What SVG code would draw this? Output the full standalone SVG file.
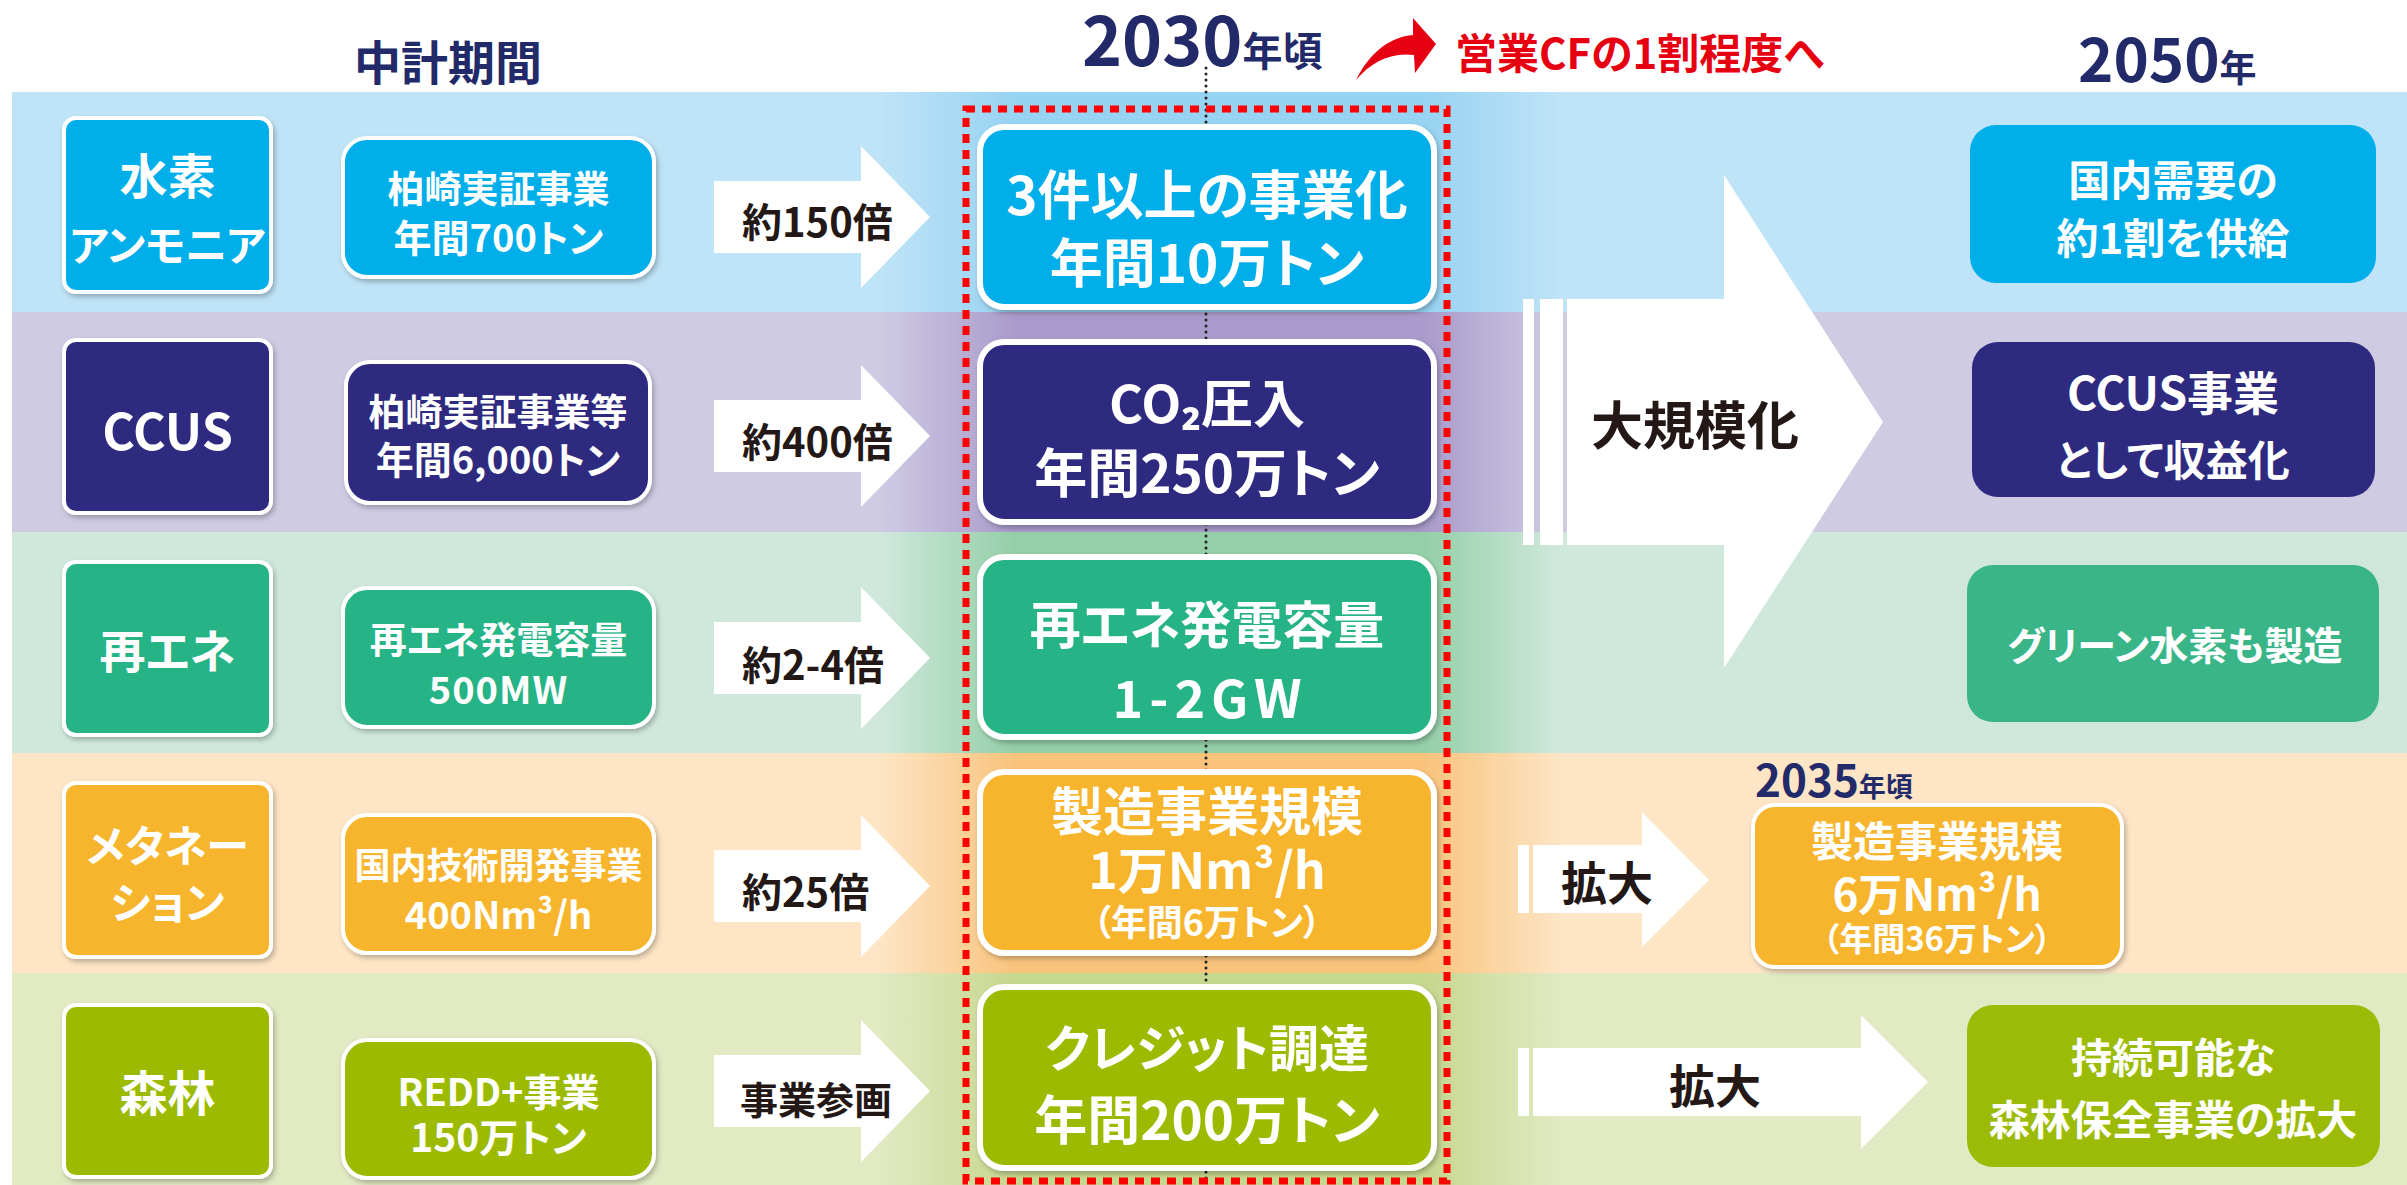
<svg xmlns="http://www.w3.org/2000/svg" width="2407" height="1185" viewBox="0 0 2407 1185">
<defs>
<style>
.t{font-family:"Noto Sans CJK JP","Noto Sans",sans-serif;font-weight:700;text-anchor:middle;dominant-baseline:central;font-feature-settings:"palt"}
.s{text-anchor:start}
.b{dominant-baseline:alphabetic}
.w{fill:#fff}
.k{fill:#231815}
.n{fill:#232a69}
.r{fill:#e60012}
.box{stroke:#fff;stroke-width:4;filter:url(#sh)}
.cbox{stroke:#fff;stroke-width:6;filter:url(#sh)}
.arr{fill:#fff}
.c1{fill:#00aeea}.c2{fill:#2e2a80}.c3{fill:#27b386}.c4{fill:#f7b52e}.c5{fill:#9cbb06}
</style>
<filter id="sh" x="-10%" y="-10%" width="120%" height="130%">
<feDropShadow dx="2" dy="3" stdDeviation="2.5" flood-color="#000" flood-opacity="0.25"/>
</filter>
<linearGradient id="g1" x1="0" x2="1" y1="0" y2="0"><stop offset="0" stop-color="#97d3f2" stop-opacity="0"/><stop offset="0.2" stop-color="#97d3f2"/><stop offset="0.8" stop-color="#97d3f2"/><stop offset="1" stop-color="#97d3f2" stop-opacity="0"/></linearGradient>
<linearGradient id="g2" x1="0" x2="1" y1="0" y2="0"><stop offset="0" stop-color="#a99bcb" stop-opacity="0"/><stop offset="0.2" stop-color="#a99bcb"/><stop offset="0.8" stop-color="#a99bcb"/><stop offset="1" stop-color="#a99bcb" stop-opacity="0"/></linearGradient>
<linearGradient id="g3" x1="0" x2="1" y1="0" y2="0"><stop offset="0" stop-color="#94cfa8" stop-opacity="0"/><stop offset="0.2" stop-color="#94cfa8"/><stop offset="0.8" stop-color="#94cfa8"/><stop offset="1" stop-color="#94cfa8" stop-opacity="0"/></linearGradient>
<linearGradient id="g4" x1="0" x2="1" y1="0" y2="0"><stop offset="0" stop-color="#f9c37c" stop-opacity="0"/><stop offset="0.2" stop-color="#f9c37c"/><stop offset="0.8" stop-color="#f9c37c"/><stop offset="1" stop-color="#f9c37c" stop-opacity="0"/></linearGradient>
<linearGradient id="g5" x1="0" x2="1" y1="0" y2="0"><stop offset="0" stop-color="#c6d78e" stop-opacity="0"/><stop offset="0.2" stop-color="#c6d78e"/><stop offset="0.8" stop-color="#c6d78e"/><stop offset="1" stop-color="#c6d78e" stop-opacity="0"/></linearGradient>
<path id="sa" d="M714,-36 H861 V-71 L930,0 L861,71 V36 H714 Z"/>
</defs>

<rect width="2407" height="1185" fill="#fff"/>

<g id="bands">
<rect x="12" y="92" width="2395" height="220" fill="#bfe3f7"/>
<rect x="12" y="312" width="2395" height="220" fill="#cfcbe3"/>
<rect x="12" y="532" width="2395" height="221" fill="#d0e8dc"/>
<rect x="12" y="753" width="2395" height="220" fill="#fde5c5"/>
<rect x="12" y="973" width="2395" height="212" fill="#e1eac3"/>
<rect x="880" y="92" width="680" height="220" fill="url(#g1)"/>
<rect x="880" y="312" width="680" height="220" fill="url(#g2)"/>
<rect x="880" y="532" width="680" height="221" fill="url(#g3)"/>
<rect x="880" y="753" width="680" height="220" fill="url(#g4)"/>
<rect x="880" y="973" width="680" height="212" fill="url(#g5)"/>
</g>

<g id="titles">
<text class="t n" x="448" y="59" font-size="47">中計期間</text>
<text class="t n s b" x="1082" y="66" font-size="68">2030<tspan font-size="40">年頃</tspan></text>
<path class="r" d="M1356,80 C1370,52 1390,37 1413,35 L1413,18 L1436,44 L1415,73 L1414,55 C1392,52 1372,61 1356,80 Z"/>
<text class="t r s" x="1455" y="50" font-size="42">営業CFの1割程度へ</text>
<text class="t n s b" x="2078" y="82" font-size="60">2050<tspan font-size="37">年</tspan></text>
<text class="t n s b" x="1755" y="797" font-size="44">2035<tspan font-size="27">年頃</tspan></text>
</g>

<g id="connectors">
<line x1="1206" y1="68" x2="1206" y2="1180" stroke="#222" stroke-width="3" stroke-dasharray="0 6" stroke-linecap="round"/>
<use href="#sa" class="arr" transform="translate(0,217)"/>
<use href="#sa" class="arr" transform="translate(0,436)"/>
<use href="#sa" class="arr" transform="translate(0,658)"/>
<use href="#sa" class="arr" transform="translate(0,886)"/>
<use href="#sa" class="arr" transform="translate(0,1091)"/>
<text class="t k s" x="742" y="220" font-size="40">約150倍</text>
<text class="t k s" x="742" y="440" font-size="40">約400倍</text>
<text class="t k s" x="742" y="663" font-size="40">約2-4倍</text>
<text class="t k s" x="742" y="890" font-size="40">約25倍</text>
<text class="t k s" x="740" y="1097" font-size="38">事業参画</text>
<g id="big-arrow">
<rect class="arr" x="1523" y="299" width="11" height="246"/>
<rect class="arr" x="1540" y="299" width="23" height="246"/>
<path class="arr" d="M1567,299 H1724 V175 L1883,422 L1724,668 V545 H1567 Z"/>
<text class="t k" x="1695" y="422" font-size="52">大規模化</text>
</g>
<g id="expand-arrow-1">
<rect class="arr" x="1518" y="845" width="11" height="68"/>
<path class="arr" d="M1533,845 H1642 V812 L1709,880 L1642,947 V913 H1533 Z"/>
<text class="t k" x="1607" y="880" font-size="46">拡大</text>
</g>
<g id="expand-arrow-2">
<rect class="arr" x="1518" y="1048" width="11" height="68"/>
<path class="arr" d="M1533,1048 H1861 V1015 L1928,1082 L1861,1149 V1116 H1533 Z"/>
<text class="t k" x="1715" y="1083" font-size="46">拡大</text>
</g>
</g>

<g id="cat-hydrogen"><rect class="box c1" x="64" y="118" width="207" height="174" rx="12"/>
<text class="t w" x="167.5" y="173" font-size="48">水素</text><text class="t w" x="167.5" y="242" font-size="42">アンモニア</text></g>
<g id="cat-ccus"><rect class="box c2" x="64" y="340" width="207" height="173" rx="12"/>
<text class="t w" x="167.5" y="428" font-size="50">CCUS</text></g>
<g id="cat-renew"><rect class="box c3" x="64" y="562" width="207" height="173" rx="12"/>
<text class="t w" x="167.5" y="648" font-size="46">再エネ</text></g>
<g id="cat-methanation"><rect class="box c4" x="64" y="783" width="207" height="174" rx="12"/>
<text class="t w" x="167.5" y="843" font-size="43">メタネー</text><text class="t w" x="167.5" y="900" font-size="43">ション</text></g>
<g id="cat-forest"><rect class="box c5" x="64" y="1005" width="207" height="172" rx="12"/>
<text class="t w" x="167.5" y="1090" font-size="48">森林</text></g>

<g id="now-hydrogen"><rect class="box c1" x="343" y="138" width="311" height="139" rx="24"/>
<text class="t w" x="498.5" y="187" font-size="37">柏崎実証事業</text><text class="t w" x="498.5" y="235" font-size="38">年間700トン</text></g>
<g id="now-ccus"><rect class="box c2" x="346" y="362" width="304" height="141" rx="24"/>
<text class="t w" x="498" y="410" font-size="37">柏崎実証事業等</text><text class="t w" x="498" y="457" font-size="38">年間6,000トン</text></g>
<g id="now-renew"><rect class="box c3" x="343" y="588" width="311" height="139" rx="24"/>
<text class="t w" x="498.5" y="638" font-size="37">再エネ発電容量</text><text class="t w" x="498.5" y="687" font-size="38" letter-spacing="1">500MW</text></g>
<g id="now-methanation"><rect class="box c4" x="343" y="815" width="311" height="138" rx="24"/>
<text class="t w" x="498.5" y="863" font-size="36">国内技術開発事業</text><text class="t w" x="498.5" y="912" font-size="38">400Nm³/h</text></g>
<g id="now-forest"><rect class="box c5" x="343" y="1040" width="311" height="138" rx="24"/>
<text class="t w" x="498.5" y="1089" font-size="38">REDD+事業</text><text class="t w" x="498.5" y="1135" font-size="39">150万トン</text></g>

<g id="y2030-hydrogen"><rect class="cbox c1" x="980" y="127" width="454" height="180" rx="24"/>
<text class="t w" x="1207" y="192" font-size="53">3件以上の事業化</text><text class="t w" x="1207" y="260" font-size="53">年間10万トン</text></g>
<g id="y2030-ccus"><rect class="cbox c2" x="980" y="342" width="454" height="180" rx="24"/>
<text class="t w" x="1207" y="400" font-size="52">CO₂圧入</text><text class="t w" x="1207" y="470" font-size="53">年間250万トン</text></g>
<g id="y2030-renew"><rect class="cbox c3" x="980" y="557" width="454" height="180" rx="24"/>
<text class="t w" x="1207" y="622" font-size="51">再エネ発電容量</text><text class="t w" x="1210" y="695" font-size="52" letter-spacing="6">1-2GW</text></g>
<g id="y2030-methanation"><rect class="cbox c4" x="980" y="772" width="454" height="181" rx="24"/>
<text class="t w" x="1207" y="808" font-size="52">製造事業規模</text><text class="t w" x="1207" y="867" font-size="50">1万Nm³/h</text><text class="t w" x="1207" y="920" font-size="36">（年間6万トン）</text></g>
<g id="y2030-forest"><rect class="cbox c5" x="980" y="987" width="454" height="181" rx="24"/>
<text class="t w" x="1207" y="1045" font-size="50">クレジット調達</text><text class="t w" x="1207" y="1117" font-size="53">年間200万トン</text></g>

<rect id="target-frame" x="966" y="109" width="481" height="1072" fill="none" stroke="#ff0000" stroke-width="7" stroke-dasharray="9 7"/>

<g id="y2035-methanation"><rect class="box c4" x="1753" y="805" width="369" height="162" rx="22"/>
<text class="t w" x="1937" y="838" font-size="42">製造事業規模</text><text class="t w" x="1937" y="892" font-size="44">6万Nm³/h</text><text class="t w" x="1937" y="937" font-size="33">（年間36万トン）</text></g>

<g id="y2050-hydrogen"><rect class="c1" x="1970" y="125" width="406" height="158" rx="26"/>
<text class="t w" x="2173" y="177" font-size="42">国内需要の</text><text class="t w" x="2173" y="235" font-size="42">約1割を供給</text></g>
<g id="y2050-ccus"><rect class="c2" x="1972" y="342" width="403" height="155" rx="26"/>
<text class="t w" x="2173" y="390" font-size="46">CCUS事業</text><text class="t w" x="2173" y="457" font-size="42">として収益化</text></g>
<g id="y2050-renew"><rect fill="#3ab587" x="1967" y="565" width="412" height="157" rx="26"/>
<text class="t w" x="2175" y="643" font-size="39">グリーン水素も製造</text></g>
<g id="y2050-forest"><rect class="c5" x="1967" y="1005" width="413" height="162" rx="26"/>
<text class="t w" x="2173" y="1055" font-size="41">持続可能な</text><text class="t w" x="2173" y="1117" font-size="41">森林保全事業の拡大</text></g>
</svg>
